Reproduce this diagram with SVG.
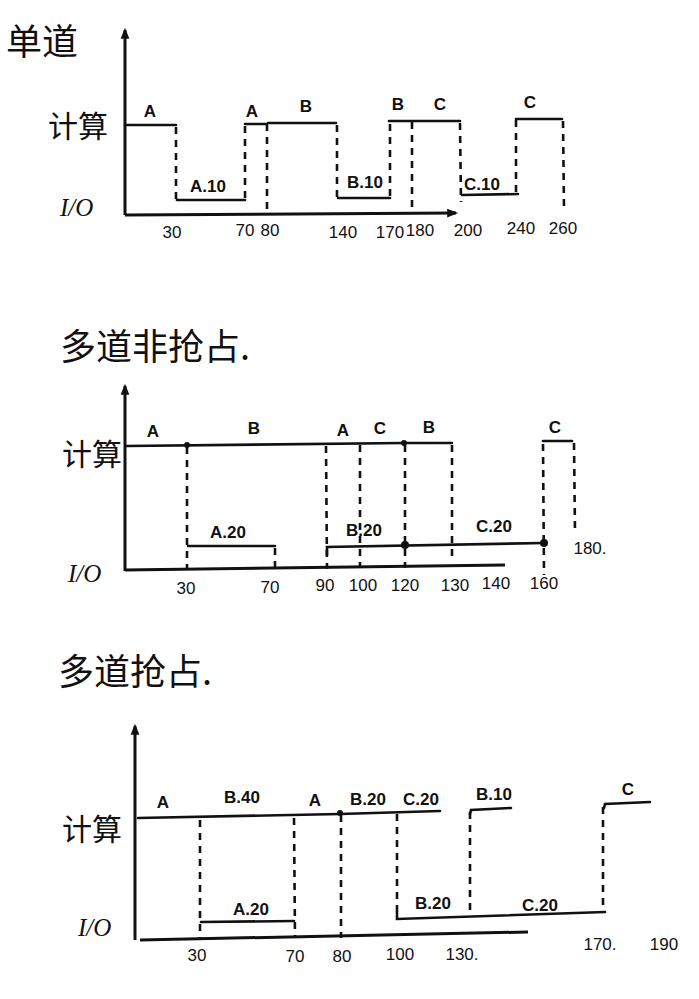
<svg xmlns="http://www.w3.org/2000/svg" width="699" height="999" viewBox="0 0 699 999">
<defs>
<marker id="ar" viewBox="0 0 10 10" refX="8" refY="5" markerUnits="userSpaceOnUse" markerWidth="13" markerHeight="11" orient="auto-start-reverse"><path d="M0,1 L10,5 L0,9 z" fill="#111"/></marker>
<style>
.ax{stroke:#111;stroke-width:3;fill:none}
.ln{stroke:#111;stroke-width:2.6;fill:none;stroke-linecap:round}
.ds{stroke:#111;stroke-width:2.6;fill:none;stroke-dasharray:7 6}
.t{font-family:"Liberation Sans","Noto Sans CJK SC",sans-serif;fill:#111;font-size:17px;font-weight:bold;text-anchor:middle}
.n{font-family:"Liberation Sans",sans-serif;fill:#111;font-size:17px;text-anchor:middle}
.ttl{font-family:"Noto Sans CJK SC",sans-serif;fill:#111;font-size:36px}
.cj{font-family:"Noto Sans CJK SC",sans-serif;fill:#111;font-size:30px}
.io{font-family:"Liberation Serif",serif;fill:#111;font-size:25px;font-style:italic}
</style>
</defs>
<rect width="699" height="999" fill="#fff"/>

<g id="single">
<text class="ttl" x="6" y="55">单道</text>
<text class="cj" x="48" y="137">计算</text>
<text class="io" x="60" y="216">I/O</text>
<g class="connectors">
<line class="ax" x1="125" y1="215" x2="125" y2="30" marker-end="url(#ar)"/>
<line class="ax" x1="125" y1="215" x2="456" y2="213" marker-end="url(#ar)"/>
<polyline class="ln" points="125,125 176,125"/>
<line class="ds" x1="176" y1="127" x2="176" y2="200"/>
<polyline class="ln" points="177,200 245,200"/>
<line class="ds" x1="245" y1="198" x2="245" y2="125"/>
<polyline class="ln" points="245,124 266,124"/>
<line class="ds" x1="267" y1="124" x2="267" y2="214"/>
<polyline class="ln" points="268,123 336,123"/>
<line class="ds" x1="337" y1="125" x2="337" y2="198"/>
<polyline class="ln" points="338,198 390,198"/>
<line class="ds" x1="390" y1="196" x2="390" y2="122"/>
<polyline class="ln" points="389,121 460,121"/>
<line class="ds" x1="412" y1="122" x2="412" y2="214"/>
<line class="ds" x1="460" y1="123" x2="461" y2="202"/>
<polyline class="ln" points="462,195 518,194"/>
<line class="ds" x1="516" y1="192" x2="516" y2="120"/>
<polyline class="ln" points="516,119 562,119"/>
<line class="ds" x1="563" y1="121" x2="564" y2="210"/>
</g>
<text class="t" x="150" y="117">A</text>
<text class="t" x="252" y="117">A</text>
<text class="t" x="306" y="112">B</text>
<text class="t" x="398" y="110">B</text>
<text class="t" x="440" y="110">C</text>
<text class="t" x="530" y="108">C</text>
<text class="t" x="208" y="192">A.10</text>
<text class="t" x="365" y="188">B.10</text>
<text class="t" x="482" y="190">C.10</text>
<text class="n" x="172" y="238">30</text>
<text class="n" x="245" y="236">70</text>
<text class="n" x="270" y="236">80</text>
<text class="n" x="343" y="238">140</text>
<text class="n" x="390" y="238">170</text>
<text class="n" x="420" y="236">180</text>
<text class="n" x="468" y="236">200</text>
<text class="n" x="521" y="234">240</text>
<text class="n" x="563" y="234">260</text>
</g>

<g id="multi-nonpreemptive">
<text class="ttl" x="60" y="360">多道非抢占.</text>
<text class="cj" x="62" y="465">计算</text>
<text class="io" x="68" y="582">I/O</text>
<g class="connectors">
<line class="ax" x1="125" y1="571" x2="125" y2="386" marker-end="url(#ar)"/>
<line class="ax" x1="125" y1="570" x2="505" y2="565"/>
<polyline class="ln" points="126,446 404,443 433,443 452,443"/>
<circle cx="187" cy="445" r="3" fill="#111"/>
<circle cx="404" cy="443" r="3" fill="#111"/>
<line class="ds" x1="187" y1="447" x2="187" y2="569"/>
<line class="ds" x1="326" y1="446" x2="327" y2="569"/>
<line class="ds" x1="360" y1="445" x2="360" y2="568"/>
<line class="ds" x1="405" y1="445" x2="405" y2="568"/>
<line class="ds" x1="452" y1="445" x2="452" y2="562"/>
<polyline class="ln" points="188,546 275,546"/>
<line class="ds" x1="275" y1="548" x2="275" y2="569"/>
<polyline class="ln" points="327,555 327,547 544,543"/>
<circle cx="405" cy="545" r="4" fill="#111"/>
<circle cx="544" cy="543" r="4" fill="#111"/>
<line class="ds" x1="543" y1="444" x2="544" y2="575"/>
<polyline class="ln" points="543,441 572,441"/>
<line class="ds" x1="574" y1="443" x2="575" y2="532"/>
</g>
<text class="t" x="153" y="437">A</text>
<text class="t" x="254" y="434">B</text>
<text class="t" x="343" y="436">A</text>
<text class="t" x="380" y="434">C</text>
<text class="t" x="429" y="433">B</text>
<text class="t" x="555" y="433">C</text>
<text class="t" x="228" y="538">A.20</text>
<text class="t" x="364" y="536">B.20</text>
<text class="t" x="494" y="532">C.20</text>
<text class="n" x="186" y="594">30</text>
<text class="n" x="270" y="593">70</text>
<text class="n" x="325" y="591">90</text>
<text class="n" x="363" y="591">100</text>
<text class="n" x="405" y="591">120</text>
<text class="n" x="455" y="591">130</text>
<text class="n" x="496" y="589">140</text>
<text class="n" x="544" y="589">160</text>
<text class="n" x="590" y="554">180.</text>
</g>

<g id="multi-preemptive">
<text class="ttl" x="58" y="685">多道抢占.</text>
<text class="cj" x="62" y="840">计算</text>
<text class="io" x="78" y="936">I/O</text>
<g class="connectors">
<line class="ax" x1="135" y1="940" x2="135" y2="726" marker-end="url(#ar)"/>
<line class="ax" x1="140" y1="940" x2="528" y2="932"/>
<polyline class="ln" points="138,818 340,814 440,811"/>
<circle cx="340" cy="813" r="3" fill="#111"/>
<line class="ds" x1="200" y1="820" x2="200" y2="940"/>
<line class="ds" x1="294" y1="818" x2="295" y2="938"/>
<line class="ds" x1="341" y1="815" x2="341" y2="938"/>
<line class="ds" x1="397" y1="814" x2="397" y2="918"/>
<line class="ds" x1="470" y1="812" x2="470" y2="917"/>
<line class="ds" x1="603" y1="807" x2="603" y2="912"/>
<polyline class="ln" points="201,922 294,921"/>
<polyline class="ln" points="397,912 397,919 605,912"/>
<polyline class="ln" points="470,814 471,810 511,808"/>
<polyline class="ln" points="604,808 605,804 650,802"/>
</g>
<text class="t" x="163" y="808">A</text>
<text class="t" x="242" y="803">B.40</text>
<text class="t" x="315" y="806">A</text>
<text class="t" x="368" y="805">B.20</text>
<text class="t" x="421" y="805">C.20</text>
<text class="t" x="494" y="800">B.10</text>
<text class="t" x="628" y="795">C</text>
<text class="t" x="251" y="915">A.20</text>
<text class="t" x="433" y="909">B.20</text>
<text class="t" x="540" y="911">C.20</text>
<text class="n" x="197" y="961">30</text>
<text class="n" x="295" y="962">70</text>
<text class="n" x="342" y="962">80</text>
<text class="n" x="400" y="960">100</text>
<text class="n" x="462" y="960">130.</text>
<text class="n" x="600" y="950">170.</text>
<text class="n" x="664" y="950">190</text>
</g>
</svg>
